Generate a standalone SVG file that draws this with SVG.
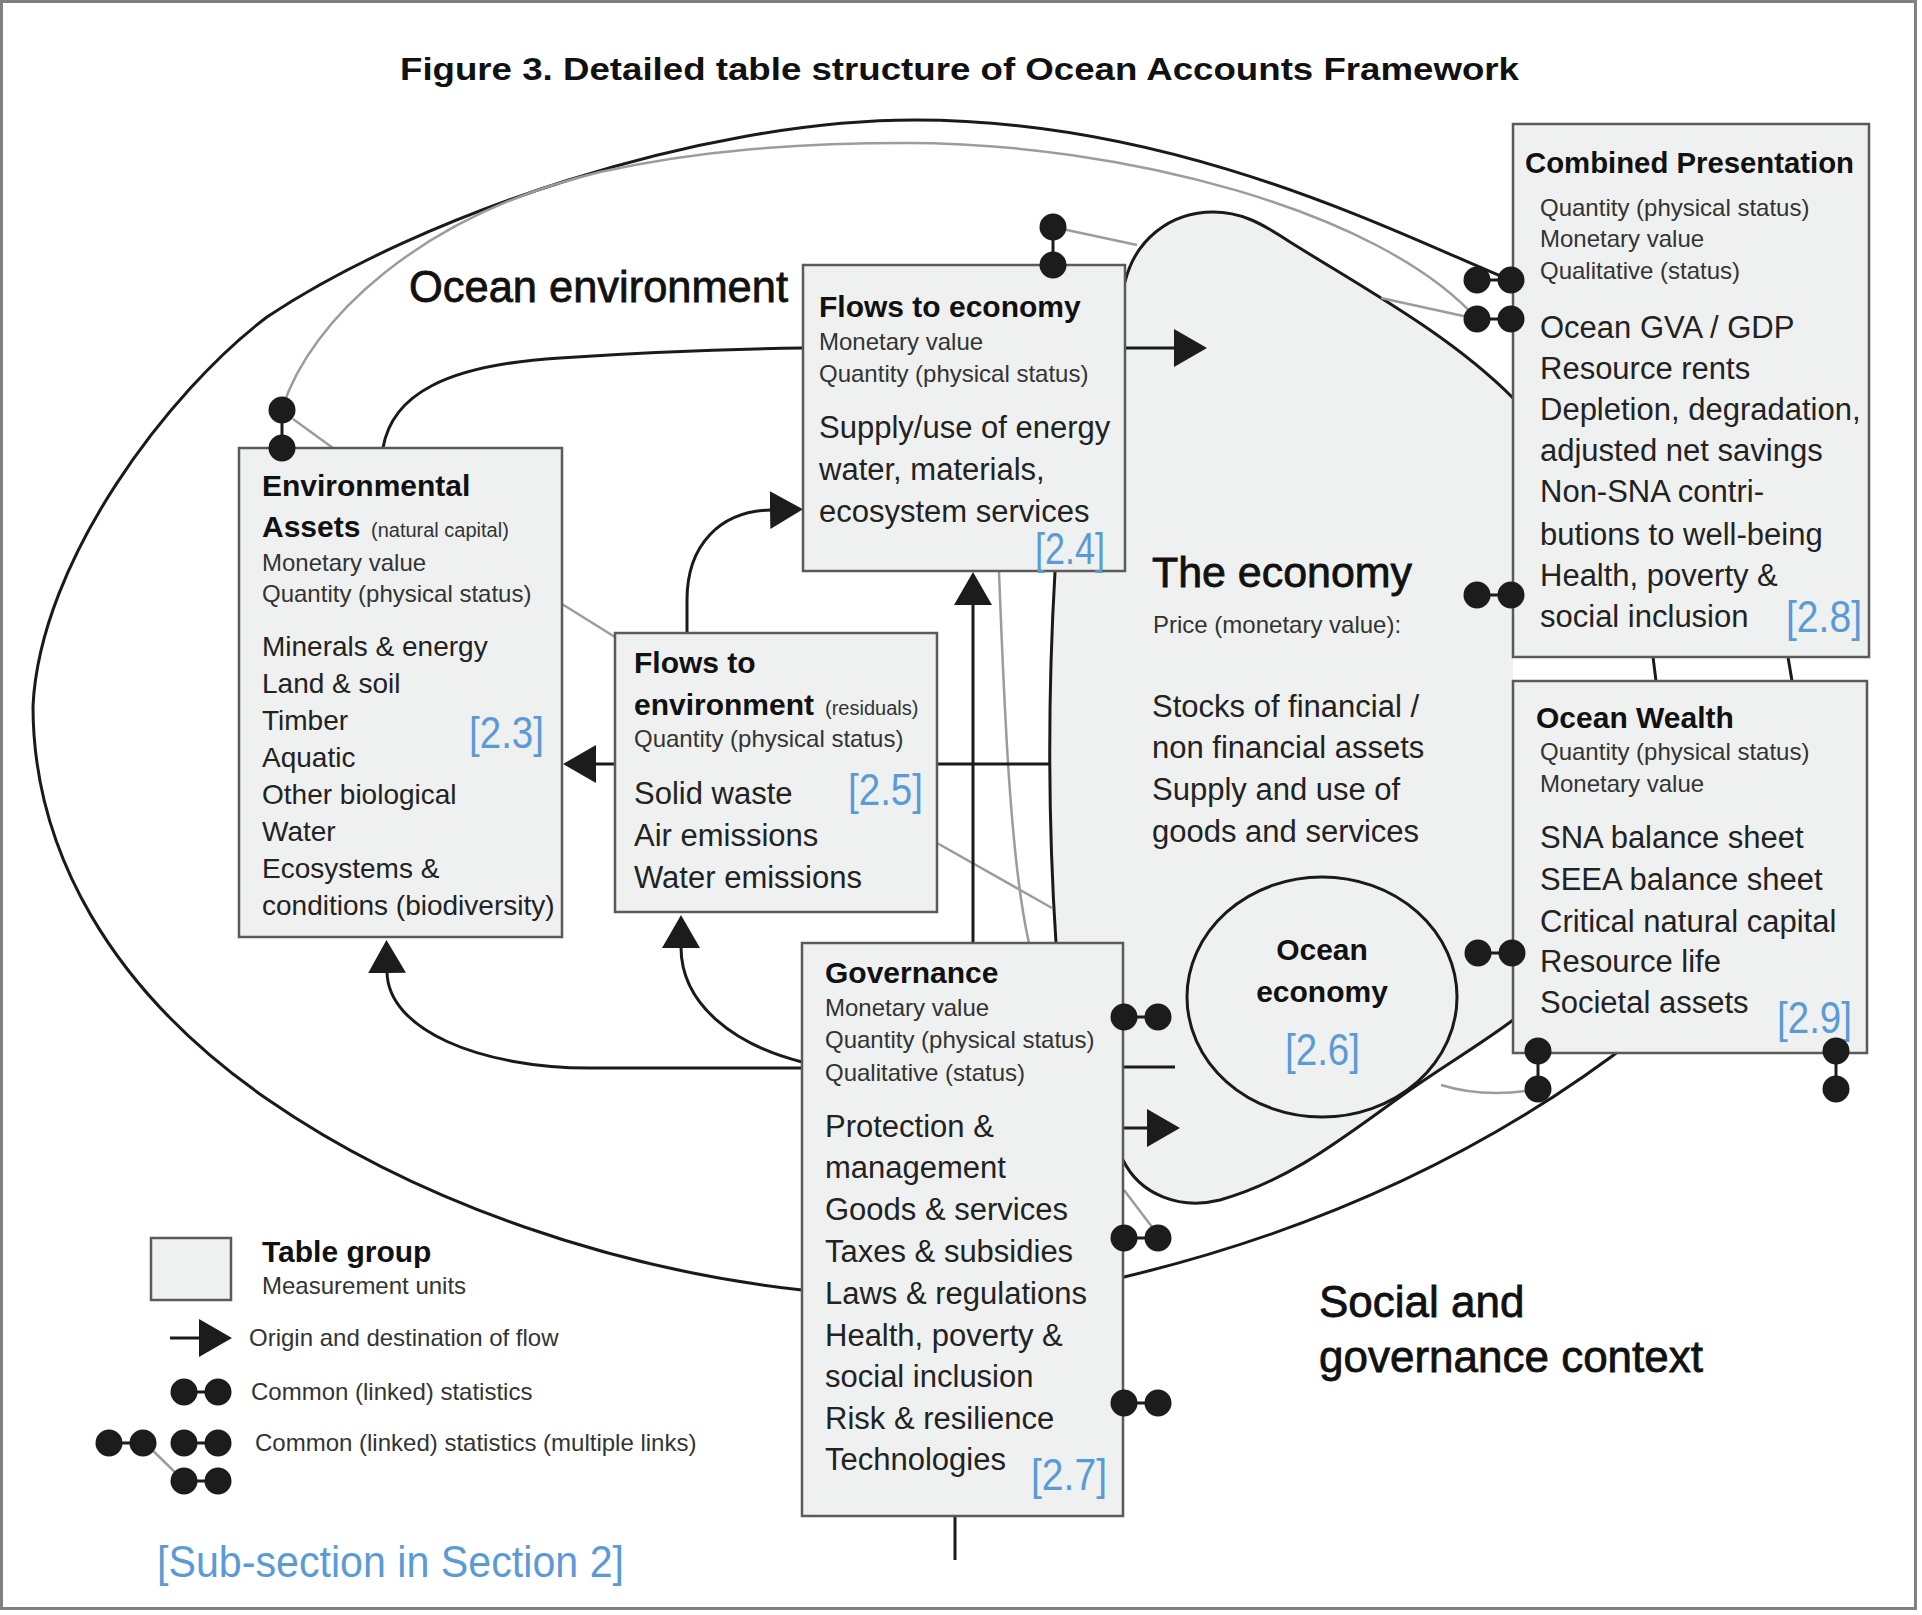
<svg xmlns="http://www.w3.org/2000/svg" xmlns:xlink="http://www.w3.org/1999/xlink" width="1922" height="1615" viewBox="0 0 1922 1615">
<defs>
<style>
text{font-family:"Liberation Sans",Arial,Helvetica,sans-serif;}
.box{fill:#eff0f0;stroke:#5a5a5a;stroke-width:2.5}
.ln{fill:none;stroke:#1a1a1a;stroke-width:3}
.gl{fill:none;stroke:#9c9c9c;stroke-width:2.5}
.dot{fill:#1c1c1c}
.h{font-weight:bold;font-size:30px;fill:#111}
.s{font-size:24px;fill:#333}
.l{font-size:31px;fill:#222}
.l28{font-size:28px;fill:#222}
.p{font-size:20px;fill:#333}
.b{font-size:44px;fill:#5b9bd5}
.big{font-size:44px;fill:#111;stroke:#111;stroke-width:0.8}
</style>
<marker id="arr" markerUnits="userSpaceOnUse" markerWidth="34" markerHeight="38" viewBox="0 0 34 38" refX="1" refY="19" orient="auto">
<path d="M0,0 L33,19 L0,38 Z" fill="#1c1c1c"/>
</marker>
<g id="hp"><line x1="0" y1="0" x2="34" y2="0" stroke="#1c1c1c" stroke-width="3"/><circle class="dot" cx="0" cy="0" r="13.5"/><circle class="dot" cx="34" cy="0" r="13.5"/></g>
<g id="vp"><line x1="0" y1="0" x2="0" y2="38" stroke="#1c1c1c" stroke-width="3"/><circle class="dot" cx="0" cy="0" r="13.5"/><circle class="dot" cx="0" cy="38" r="13.5"/></g>
</defs>

<rect x="1.5" y="1.5" width="1914" height="1607" fill="#ffffff" stroke="#808080" stroke-width="3"/>

<text x="400" y="80" font-weight="bold" font-size="32" fill="#111" textLength="1119" lengthAdjust="spacingAndGlyphs">Figure 3. Detailed table structure of Ocean Accounts Framework</text>

<g id="ocean-environment">
<path class="ln" d="M1510,280 C1400,235 1180,120 915,120 C700,120 420,215 267,317 C170,390 40,560 33,706 C33,850 110,990 267,1099 C420,1205 620,1270 802,1290 L1124,1277 C1300,1235 1480,1160 1640,1035"/>
<text class="big" x="409" y="302" textLength="379" lengthAdjust="spacingAndGlyphs">Ocean environment</text>
</g>

<g id="social-governance-context">
<text class="big" x="1319" y="1317">Social and</text>
<text class="big" x="1319" y="1372" textLength="384" lengthAdjust="spacingAndGlyphs">governance context</text>
</g>

<g id="the-economy">
<path d="M1055,572 Q1044,760 1056,943 L1123,1160 C1140,1195 1180,1210 1220,1200 C1290,1180 1340,1140 1400,1097 C1440,1068 1480,1045 1513,1020 L1513,398 C1450,335 1370,292 1290,242 C1260,222 1240,212 1213,212 C1170,212 1135,240 1125,280 Z" fill="#eff0f0"/>
<path class="ln" d="M1125,282 C1135,240 1170,212 1213,212 C1240,212 1260,222 1290,242 C1370,292 1450,335 1513,398"/>
<path class="ln" d="M1055,572 Q1044,760 1056,943"/>
<path class="ln" d="M1123,1160 C1140,1195 1180,1210 1220,1200 C1290,1180 1340,1140 1400,1097 C1440,1068 1480,1045 1513,1020"/>
<text x="1152" y="587" font-size="43" fill="#111" stroke="#111" stroke-width="0.8" textLength="260" lengthAdjust="spacingAndGlyphs">The economy</text>
<text class="s" x="1153" y="633">Price (monetary value):</text>
<text class="l" x="1152" y="717">Stocks of financial /</text>
<text class="l" x="1152" y="758">non financial assets</text>
<text class="l" x="1152" y="800">Supply and use of</text>
<text class="l" x="1152" y="842">goods and services</text>
</g>

<g id="ocean-economy">
<ellipse cx="1322" cy="997" rx="135" ry="120" fill="#eff0f0" stroke="#1a1a1a" stroke-width="3"/>
<text class="h" x="1322" y="960" text-anchor="middle">Ocean</text>
<text class="h" x="1322" y="1002" text-anchor="middle">economy</text>
<text class="b" x="1285" y="1065" textLength="75" lengthAdjust="spacingAndGlyphs">[2.6]</text>
</g>

<g id="connectors">
<path class="gl" d="M282,409 C310,320 420,215 600,172 C700,150 800,143 907,143 C1120,143 1380,210 1477,319"/>
<line class="gl" x1="293" y1="419" x2="333" y2="448"/>
<line class="gl" x1="1053" y1="227" x2="1137" y2="245"/>
<line class="gl" x1="1381" y1="298" x2="1477" y2="319"/>
<line class="gl" x1="562" y1="604" x2="615" y2="637"/>
<line class="gl" x1="937" y1="843" x2="1052" y2="908"/>
<path class="gl" d="M999,572 C1004,700 1010,860 1029,943"/>
<path class="gl" d="M1441,1085 Q1480,1097 1526,1091"/>
<line class="gl" x1="1124" y1="1190" x2="1152" y2="1227"/>

<path class="ln" d="M383,448 C392,395 445,365 560,358 C650,352 740,349 803,348"/>
<path class="ln" d="M1125,348 L1175,348" marker-end="url(#arr)"/>
<path class="ln" d="M687,633 L687,600 C687,545 720,511 771,510" marker-end="url(#arr)"/>
<path class="ln" d="M973,943 L973,604" marker-end="url(#arr)"/>
<line class="ln" x1="937" y1="764" x2="1049" y2="764"/>
<path class="ln" d="M615,764 L595,764" marker-end="url(#arr)"/>
<path class="ln" d="M802,1068 L590,1068 C480,1068 388,1030 387,972" marker-end="url(#arr)"/>
<path class="ln" d="M802,1062 C735,1045 681,1005 681,947" marker-end="url(#arr)"/>
<line class="ln" x1="1123" y1="1067" x2="1175" y2="1067"/>
<path class="ln" d="M1123,1128 L1148,1128" marker-end="url(#arr)"/>
<line class="ln" x1="955" y1="1516" x2="955" y2="1560"/>
<line class="ln" x1="1653" y1="657" x2="1656" y2="681"/>
<line class="ln" x1="1788" y1="657" x2="1792" y2="681"/>
</g>

<g id="environmental-assets">
<rect class="box" x="239" y="448" width="323" height="489"/>
<text class="h" x="262" y="496">Environmental</text>
<text class="h" x="262" y="537">Assets</text>
<text class="p" x="371" y="537">(natural capital)</text>
<text class="s" x="262" y="571">Monetary value</text>
<text class="s" x="262" y="602">Quantity (physical status)</text>
<text class="l28" x="262" y="656">Minerals &amp; energy</text>
<text class="l28" x="262" y="693">Land &amp; soil</text>
<text class="l28" x="262" y="730">Timber</text>
<text class="l28" x="262" y="767">Aquatic</text>
<text class="l28" x="262" y="804">Other biological</text>
<text class="l28" x="262" y="841">Water</text>
<text class="l28" x="262" y="878">Ecosystems &amp;</text>
<text class="l28" x="262" y="915">conditions (biodiversity)</text>
<text class="b" x="469" y="748" textLength="75" lengthAdjust="spacingAndGlyphs">[2.3]</text>
</g>

<g id="flows-to-environment">
<rect class="box" x="615" y="633" width="322" height="279"/>
<text class="h" x="634" y="673">Flows to</text>
<text class="h" x="634" y="715">environment</text>
<text class="p" x="825" y="715">(residuals)</text>
<text class="s" x="634" y="747">Quantity (physical status)</text>
<text class="l" x="634" y="804">Solid waste</text>
<text class="l" x="634" y="846">Air emissions</text>
<text class="l" x="634" y="888">Water emissions</text>
<text class="b" x="848" y="805" textLength="75" lengthAdjust="spacingAndGlyphs">[2.5]</text>
</g>

<g id="flows-to-economy">
<rect class="box" x="803" y="265" width="322" height="306"/>
<text class="h" x="819" y="317">Flows to economy</text>
<text class="s" x="819" y="350">Monetary value</text>
<text class="s" x="819" y="382">Quantity (physical status)</text>
<text class="l" x="819" y="438">Supply/use of energy</text>
<text class="l" x="819" y="480">water, materials,</text>
<text class="l" x="819" y="522">ecosystem services</text>
<text class="b" x="1035" y="564" font-size="40" textLength="70" lengthAdjust="spacingAndGlyphs">[2.4]</text>
</g>

<g id="governance">
<rect class="box" x="802" y="943" width="321" height="573"/>
<text class="h" x="825" y="983">Governance</text>
<text class="s" x="825" y="1016">Monetary value</text>
<text class="s" x="825" y="1048">Quantity (physical status)</text>
<text class="s" x="825" y="1081">Qualitative (status)</text>
<text class="l" x="825" y="1137">Protection &amp;</text>
<text class="l" x="825" y="1178">management</text>
<text class="l" x="825" y="1220">Goods &amp; services</text>
<text class="l" x="825" y="1262">Taxes &amp; subsidies</text>
<text class="l" x="825" y="1304">Laws &amp; regulations</text>
<text class="l" x="825" y="1346">Health, poverty &amp;</text>
<text class="l" x="825" y="1387">social inclusion</text>
<text class="l" x="825" y="1429">Risk &amp; resilience</text>
<text class="l" x="825" y="1470">Technologies</text>
<text class="b" x="1031" y="1490" textLength="76" lengthAdjust="spacingAndGlyphs">[2.7]</text>
</g>

<g id="combined-presentation">
<rect class="box" x="1513" y="124" width="356" height="533"/>
<text class="h" x="1525" y="173" textLength="329" lengthAdjust="spacingAndGlyphs">Combined Presentation</text>
<text class="s" x="1540" y="216">Quantity (physical status)</text>
<text class="s" x="1540" y="247">Monetary value</text>
<text class="s" x="1540" y="279">Qualitative (status)</text>
<text class="l" x="1540" y="338">Ocean GVA / GDP</text>
<text class="l" x="1540" y="379">Resource rents</text>
<text class="l" x="1540" y="420">Depletion, degradation,</text>
<text class="l" x="1540" y="461">adjusted net savings</text>
<text class="l" x="1540" y="502">Non-SNA contri-</text>
<text class="l" x="1540" y="545">butions to well-being</text>
<text class="l" x="1540" y="586">Health, poverty &amp;</text>
<text class="l" x="1540" y="627">social inclusion</text>
<text class="b" x="1786" y="632" textLength="76" lengthAdjust="spacingAndGlyphs">[2.8]</text>
</g>

<g id="ocean-wealth">
<rect class="box" x="1513" y="681" width="354" height="372"/>
<text class="h" x="1536" y="728" font-size="33">Ocean Wealth</text>
<text class="s" x="1540" y="760">Quantity (physical status)</text>
<text class="s" x="1540" y="792">Monetary value</text>
<text class="l" x="1540" y="848">SNA balance sheet</text>
<text class="l" x="1540" y="890">SEEA balance sheet</text>
<text class="l" x="1540" y="932">Critical natural capital</text>
<text class="l" x="1540" y="972">Resource life</text>
<text class="l" x="1540" y="1013">Societal assets</text>
<text class="b" x="1777" y="1033" textLength="75" lengthAdjust="spacingAndGlyphs">[2.9]</text>
</g>

<g id="linked-statistics">
<use xlink:href="#vp" x="282" y="410"/>
<use xlink:href="#vp" x="1053" y="227"/>
<use xlink:href="#hp" x="1477" y="280"/>
<use xlink:href="#hp" x="1477" y="319"/>
<use xlink:href="#hp" x="1477" y="595"/>
<use xlink:href="#hp" x="1478" y="953"/>
<use xlink:href="#vp" x="1538" y="1051"/>
<use xlink:href="#vp" x="1836" y="1051"/>
<use xlink:href="#hp" x="1124" y="1017"/>
<use xlink:href="#hp" x="1124" y="1238"/>
<use xlink:href="#hp" x="1124" y="1403"/>
</g>

<g id="legend">
<rect class="box" x="151" y="1238" width="80" height="62"/>
<text class="h" x="262" y="1262">Table group</text>
<text class="s" x="262" y="1294">Measurement units</text>
<path class="ln" d="M170,1338 L200,1338" marker-end="url(#arr)"/>
<text class="s" x="249" y="1346">Origin and destination of flow</text>
<use xlink:href="#hp" x="184" y="1392"/>
<text class="s" x="251" y="1400">Common (linked) statistics</text>
<line x1="145" y1="1443" x2="184" y2="1481" stroke="#9c9c9c" stroke-width="2.5"/>
<use xlink:href="#hp" x="109" y="1443"/>
<use xlink:href="#hp" x="184" y="1443"/>
<use xlink:href="#hp" x="184" y="1481"/>
<text class="s" x="255" y="1451">Common (linked) statistics (multiple links)</text>
<text class="b" x="157" y="1577" textLength="467" lengthAdjust="spacingAndGlyphs">[Sub-section in Section 2]</text>
</g>
</svg>
